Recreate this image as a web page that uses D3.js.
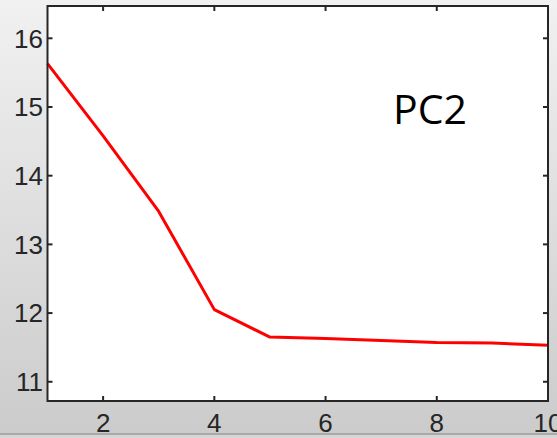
<!DOCTYPE html>
<html>
<head>
<meta charset="utf-8">
<script src="https://cdn.jsdelivr.net/npm/d3@7"></script>
<style>
  body { margin: 0; padding: 0; overflow: hidden; }
</style>
</head>
<body>
<div id="chart"></div>
<script>
var components = [1, 2, 3, 4, 5, 6, 7, 8, 9, 10];
var values = [15.63, 14.58, 13.48, 12.05, 11.65, 11.63, 11.60, 11.57, 11.565, 11.53];
var xTicks = [2, 4, 6, 8, 10];
var yTicks = [11, 12, 13, 14, 15, 16];
var label = "PC2";

var width = 557, height = 438;
var plotLeft = 47.5, plotRight = 548, plotTop = 6, plotBottom = 401;
var axisColor = "#262626";

var svg = d3.select("#chart").append("svg")
  .attr("width", width)
  .attr("height", height);

// background gradient like the matlab figure window
var grad = svg.append("defs").append("linearGradient")
  .attr("id", "bg")
  .attr("x1", 0).attr("y1", 0).attr("x2", 0).attr("y2", 1);
grad.append("stop").attr("offset", "0%").attr("stop-color", "#f1f1f1");
grad.append("stop").attr("offset", "100%").attr("stop-color", "#cbcbcb");

svg.append("rect")
  .attr("width", width).attr("height", height)
  .style("fill", "url(#bg)");

var x = d3.scaleLinear().domain([1, 10]).range([plotLeft, plotRight]);
var y = d3.scaleLinear().domain([10.72, 16.47]).range([plotBottom, plotTop]);

svg.append("rect")
  .attr("x", plotLeft).attr("y", plotTop)
  .attr("width", plotRight - plotLeft).attr("height", plotBottom - plotTop)
  .style("fill", "#fff");

svg.append("path")
  .datum(values)
  .attr("d", d3.line().x(function(d, i) { return x(components[i]); }).y(function(d) { return y(d); }))
  .style("fill", "none")
  .style("stroke", "#ff0000")
  .style("stroke-width", 3)
  .style("stroke-linejoin", "round");

// ticks pointing inward on all four sides
var tickLen = 5;
var ticks = svg.append("g").style("stroke", axisColor).style("stroke-width", 2);
xTicks.forEach(function(t) {
  ticks.append("line").attr("x1", x(t)).attr("x2", x(t)).attr("y1", plotBottom).attr("y2", plotBottom - tickLen);
  ticks.append("line").attr("x1", x(t)).attr("x2", x(t)).attr("y1", plotTop).attr("y2", plotTop + tickLen);
});
yTicks.forEach(function(t) {
  ticks.append("line").attr("x1", plotLeft).attr("x2", plotLeft + tickLen).attr("y1", y(t)).attr("y2", y(t));
  ticks.append("line").attr("x1", plotRight).attr("x2", plotRight - tickLen).attr("y1", y(t)).attr("y2", y(t));
});

svg.append("rect")
  .attr("x", plotLeft).attr("y", plotTop)
  .attr("width", plotRight - plotLeft).attr("height", plotBottom - plotTop)
  .style("fill", "none")
  .style("stroke", axisColor)
  .style("stroke-width", 2);

svg.selectAll("text.xlab")
  .data(xTicks)
  .enter().append("text")
  .attr("class", "xlab")
  .attr("x", function(d) { return x(d); })
  .attr("y", 432)
  .attr("text-anchor", "middle")
  .style("font-family", "Liberation Sans, Arial, sans-serif")
  .style("font-size", "26px")
  .style("fill", axisColor)
  .text(function(d) { return d; });

svg.selectAll("text.ylab")
  .data(yTicks)
  .enter().append("text")
  .attr("class", "ylab")
  .attr("x", 43)
  .attr("y", function(d) { return y(d); })
  .attr("dy", "0.36em")
  .attr("text-anchor", "end")
  .style("font-family", "Liberation Sans, Arial, sans-serif")
  .style("font-size", "26px")
  .style("fill", axisColor)
  .text(function(d) { return d; });

// bottom edge of the window
svg.append("line")
  .attr("x1", 0).attr("x2", width).attr("y1", 434).attr("y2", 434)
  .style("stroke", "#a9a9a9").style("stroke-width", 2);
svg.append("rect")
  .attr("x", 0).attr("y", 435).attr("width", width).attr("height", 3)
  .style("fill", "#d6d6d6");

svg.append("text")
  .attr("x", 393)
  .attr("y", 124)
  .style("font-family", "Open Sans, sans-serif")
  .style("font-size", "41px")
  .style("fill", "#000")
  .text(label);
</script>
</body>
</html>
